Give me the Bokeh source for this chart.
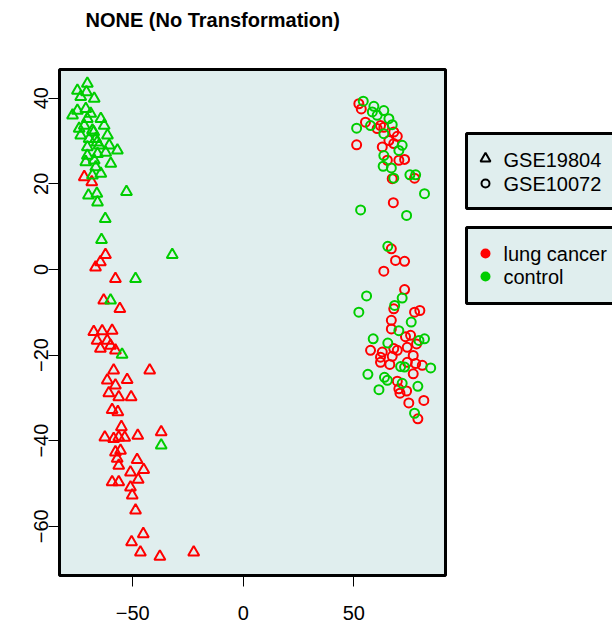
from bokeh.plotting import figure
from bokeh.layouts import row
from bokeh.models import Range1d, FixedTicker, Title
from bokeh.core.properties import value
from bokeh.embed import file_html
from bokeh.resources import INLINE

# ---------------- data ----------------
title_text = "NONE (No Transformation)"
x_ticks = [-50, 0, 50]
x_tick_labels = ["\u221250", "0", "50"]
y_ticks = [-60, -40, -20, 0, 20, 40]
y_tick_labels = ["\u221260", "\u221240", "\u221220", "0", "20", "40"]

dataset_names = ["GSE19804", "GSE10072"]
group_names = ["lung cancer", "control"]

# GSE19804 (triangles)
tri_cancer_x = [-71.9, -68.5, -62.3, -64.6, -66.8, -57.8, -63.1, -55.8, -67.6, -63.8,
                -59.3, -66.1, -61.5, -60.0, -64.6, -57.8, -58.6, -42.3, -61.5, -52.5,
                -57.8, -60.8, -56.3, -50.7, -59.3, -56.7, -55.1, -62.6, -58.6, -56.3,
                -53.6, -47.7, -37.1, -57.8, -55.5, -57.0, -48.0, -56.3, -45.0, -51.0,
                -59.3, -56.3, -47.5, -51.0, -50.2, -48.7, -45.2, -50.5, -46.5, -37.7,
                -22.4]
tri_cancer_y = [21.6, 20.4, 3.4, 1.7, 0.5, -2.2, -7.2, -9.2, -14.6, -14.4,
                -14.3, -16.6, -16.6, -17.8, -18.5, -18.9, -23.6, -23.6, -25.9, -25.8,
                -27.1, -28.9, -29.8, -29.8, -32.8, -33.3, -36.8, -39.2, -39.6, -39.2,
                -39.3, -38.8, -38.0, -42.7, -42.3, -44.2, -44.5, -45.8, -46.8, -47.4,
                -49.7, -49.7, -49.1, -50.9, -52.8, -56.3, -61.8, -63.7, -66.1, -67.1,
                -66.1]
tri_control_x = [-70.5, -75.0, -70.9, -67.4, -73.5, -77.2, -75.0, -71.2, -69.0, -70.5,
                 -64.4, -62.9, -74.2, -71.9, -68.2, -73.5, -69.7, -61.4, -66.7, -70.5,
                 -65.2, -60.6, -56.9, -70.5, -65.9, -62.2, -67.4, -59.9, -71.2, -66.7,
                 -64.4, -68.2, -52.8, -70.0, -66.2, -65.9, -62.4, -64.1, -32.1, -48.7,
                 -60.0, -54.8, -37.1, -66.1, -67.6]
tri_control_y = [43.4, 41.8, 41.4, 39.9, 40.3, 36.0, 37.1, 37.5, 36.4, 35.2,
                 35.2, 33.6, 32.9, 33.6, 32.5, 31.3, 30.5, 31.3, 30.5, 28.6,
                 29.0, 29.0, 27.8, 26.6, 27.0, 27.3, 25.5, 24.7, 25.1, 23.9,
                 22.4, 22.0, 18.1, 17.3, 17.7, 15.7, 11.8, 6.9, 3.4, -2.2,
                 -7.2, -19.9, -41.1, 29.7, 32.1]

# GSE10072 (circles)
circ_cancer_x = [52.3, 53.4, 55.3, 62.1, 63.6, 60.6, 68.1, 69.7, 65.9, 68.1,
                 51.3, 62.9, 65.2, 70.4, 73.0, 77.5, 67.4, 67.9, 67.0, 68.9,
                 73.0, 63.6, 73.0, 68.1, 77.5, 79.9, 67.0, 67.0, 73.4, 75.7,
                 78.4, 57.6, 62.9, 68.1, 69.7, 74.2, 62.1, 67.4, 76.9, 62.1,
                 66.3, 74.2, 78.0, 81.0, 76.9, 69.7, 70.4, 73.9, 70.9, 74.9,
                 81.7, 79.0]
circ_cancer_y = [38.7, 37.5, 34.4, 33.6, 33.2, 32.9, 32.1, 31.1, 30.1, 29.4,
                 29.1, 28.6, 25.5, 25.5, 25.7, 21.3, 21.2, 15.6, 4.8, 2.1,
                 1.9, -0.4, -4.7, -9.2, -10.0, -9.6, -11.9, -13.9, -15.7, -15.4,
                 -17.4, -18.9, -19.3, -18.5, -18.9, -18.2, -20.5, -20.3, -20.1, -21.7,
                 -22.2, -21.7, -22.0, -22.4, -24.4, -26.1, -27.9, -28.4, -28.9, -31.2,
                 -30.6, -34.9]
circ_control_x = [54.3, 59.1, 58.4, 63.6, 60.6, 65.9, 57.6, 67.4, 51.3, 63.6,
                  71.9, 70.4, 63.6, 63.3, 67.0, 75.4, 78.0, 68.1, 82.0, 53.1,
                  73.9, 65.4, 55.8, 71.9, 68.5, 52.3, 76.0, 70.4, 58.8, 79.5,
                  82.0, 65.4, 71.2, 73.0, 84.8, 56.4, 63.9, 65.2, 71.9, 61.4,
                  79.0, 77.5]
circ_control_y = [39.3, 38.1, 36.8, 37.1, 36.0, 35.2, 33.6, 33.8, 33.0, 31.7,
                  29.0, 27.8, 26.6, 24.1, 23.7, 22.1, 22.1, 21.3, 17.7, 13.9,
                  12.6, 5.4, -6.2, -6.7, -8.4, -10.0, -12.3, -14.3, -16.2, -16.6,
                  -16.2, -17.2, -22.7, -22.8, -23.0, -24.5, -25.2, -25.9, -26.6, -28.1,
                  -27.3, -33.6]

# ---------------- styles ----------------
RED = "#FF0000"
GREEN = "#00CD00"
BG = "#E0EEEE"
FONT = "Liberation Sans"

W_MAIN, W_LEG, H = 460, 152, 625
FR_L, FR_T, FR_R, FR_B = 59, 69, 445, 575

p = figure(width=W_MAIN, height=H, output_backend="svg", toolbar_location=None,
           x_range=Range1d(-83.1, 91.5), y_range=Range1d(-71.5, 46.7),
           min_border_left=FR_L, min_border_right=W_MAIN - FR_R,
           min_border_top=FR_T, min_border_bottom=H - FR_B)
p.background_fill_color = BG
p.border_fill_color = "white"
p.outline_line_color = "black"
p.outline_line_width = 3
p.xgrid.visible = False
p.ygrid.visible = False

# spacer between title and frame (nearest to the frame)
p.add_layout(Title(text=" ", text_font=FONT, text_font_size="20px", standoff=15), "above")

p.title.text = title_text
p.title.text_font = FONT
p.title.text_font_size = "20px"
p.title.text_font_style = "bold"
p.title.text_color = "black"
p.title.align = "left"
p.title.offset = 26
p.title.standoff = 0

for ax, ticks, labels in ((p.xaxis[0], x_ticks, x_tick_labels), (p.yaxis[0], y_ticks, y_tick_labels)):
    ax.ticker = FixedTicker(ticks=ticks)
    ax.major_label_overrides = {t: l for t, l in zip(ticks, labels)}
    ax.axis_line_color = None
    ax.major_tick_out = 11
    ax.major_tick_in = 0
    ax.minor_tick_line_color = None
    ax.major_tick_line_color = "black"
    ax.major_tick_line_width = 1
    ax.major_label_text_font = FONT
    ax.major_label_text_font_size = "20px"
    ax.major_label_text_color = "black"
p.xaxis[0].major_label_standoff = 19
p.yaxis[0].major_label_standoff = 0
p.yaxis[0].major_label_orientation = "vertical"

p.scatter(tri_cancer_x, tri_cancer_y, marker="triangle", size=11, fill_color=None,
          line_color=RED, line_width=2)
p.scatter(tri_control_x, tri_control_y, marker="triangle", size=11, fill_color=None,
          line_color=GREEN, line_width=2)
p.scatter(circ_cancer_x, circ_cancer_y, marker="circle", size=9, fill_color=None,
          line_color=RED, line_width=2)
p.scatter(circ_control_x, circ_control_y, marker="circle", size=9, fill_color=None,
          line_color=GREEN, line_width=2)

# ---------------- legend panel (coordinates in page pixels) ----------------
lg = figure(width=W_LEG, height=H, output_backend="svg", toolbar_location=None,
            title=None,
            x_range=Range1d(W_MAIN, W_MAIN + W_LEG), y_range=Range1d(FR_B, FR_T),
            min_border_left=0, min_border_right=0,
            min_border_top=FR_T, min_border_bottom=H - FR_B)
lg.axis.visible = False
lg.grid.visible = False
lg.outline_line_color = None
lg.background_fill_color = "white"
lg.border_fill_color = "white"

lg.quad(left=[466, 466], right=[660, 660], top=[133, 227], bottom=[208, 303],
        fill_color=BG, line_color="black", line_width=3)
lg.scatter([485], [158], marker="triangle", size=10, fill_color=None, line_color="black", line_width=2)
lg.scatter([485], [183], marker="circle", size=8, fill_color=None, line_color="black", line_width=2)
lg.scatter([485, 485], [253, 276], marker="circle", size=10, fill_color=[RED, GREEN], line_color=None)
lg.text([503, 503], [159, 183], text=dataset_names, text_font=value(FONT), text_font_size="20px",
        text_baseline="middle", text_align="left", text_color="black")
lg.text([503, 503], [253, 276], text=group_names, text_font=value(FONT), text_font_size="20px",
        text_baseline="middle", text_align="left", text_color="black")

layout = row(p, lg, spacing=0)
open("out.html", "w").write(file_html(layout, INLINE))
